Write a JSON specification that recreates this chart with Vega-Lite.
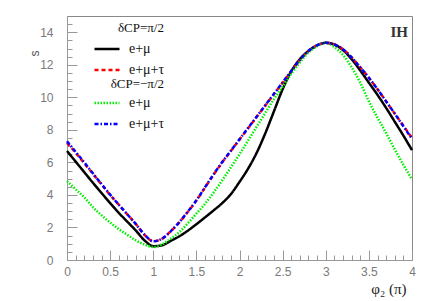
{
  "$schema": "https://vega.github.io/schema/vega-lite/v6.json",
  "autosize": "none",
  "width": 345,
  "height": 244,
  "padding": {"left": 67, "top": 16, "right": 24, "bottom": 41},
  "background": "white",
  "config": {"view": {"stroke": "#888888", "strokeWidth": 1}, "legend": {"padding": 0}},
  "title": {
    "text": "IH", "orient": "top", "anchor": "end", "offset": -24, "dx": -9,
    "font": "Liberation Serif", "fontSize": 15, "fontWeight": "bold", "color": "#333333"
  },
  "datasets": {
    "A": [
      {"phi": 0, "emu": 6.7, "emutau": 7.2},
      {"phi": 0.1, "emu": 6.05, "emutau": 6.6},
      {"phi": 0.2, "emu": 5.4, "emutau": 5.95},
      {"phi": 0.3, "emu": 4.75, "emutau": 5.3},
      {"phi": 0.4, "emu": 4.12, "emutau": 4.65},
      {"phi": 0.5, "emu": 3.5, "emutau": 4.0},
      {"phi": 0.6, "emu": 2.9, "emutau": 3.4},
      {"phi": 0.7, "emu": 2.35, "emutau": 2.8},
      {"phi": 0.8, "emu": 1.8, "emutau": 2.2},
      {"phi": 0.9, "emu": 1.2, "emutau": 1.55},
      {"phi": 1.0, "emu": 0.85, "emutau": 1.15},
      {"phi": 1.1, "emu": 0.9, "emutau": 1.3},
      {"phi": 1.2, "emu": 1.17, "emutau": 1.75},
      {"phi": 1.3, "emu": 1.45, "emutau": 2.3},
      {"phi": 1.4, "emu": 1.8, "emutau": 2.95},
      {"phi": 1.5, "emu": 2.2, "emutau": 3.65},
      {"phi": 1.6, "emu": 2.62, "emutau": 4.45},
      {"phi": 1.7, "emu": 3.05, "emutau": 5.25},
      {"phi": 1.8, "emu": 3.5, "emutau": 6.0},
      {"phi": 1.9, "emu": 4.05, "emutau": 6.7},
      {"phi": 2.0, "emu": 4.8, "emutau": 7.4},
      {"phi": 2.1, "emu": 5.62, "emutau": 8.1},
      {"phi": 2.2, "emu": 6.6, "emutau": 8.8},
      {"phi": 2.3, "emu": 7.8, "emutau": 9.5},
      {"phi": 2.4, "emu": 9.15, "emutau": 10.2},
      {"phi": 2.5, "emu": 10.5, "emutau": 10.9},
      {"phi": 2.6, "emu": 11.6, "emutau": 11.6},
      {"phi": 2.7, "emu": 12.35, "emutau": 12.3},
      {"phi": 2.8, "emu": 12.85, "emutau": 12.85},
      {"phi": 2.9, "emu": 13.2, "emutau": 13.2},
      {"phi": 3.0, "emu": 13.35, "emutau": 13.35},
      {"phi": 3.1, "emu": 13.25, "emutau": 13.25},
      {"phi": 3.2, "emu": 12.9, "emutau": 12.95},
      {"phi": 3.3, "emu": 12.35, "emutau": 12.45},
      {"phi": 3.4, "emu": 11.65, "emutau": 11.85},
      {"phi": 3.5, "emu": 10.9, "emutau": 11.2},
      {"phi": 3.6, "emu": 10.15, "emutau": 10.5},
      {"phi": 3.7, "emu": 9.35, "emutau": 9.75},
      {"phi": 3.8, "emu": 8.5, "emutau": 9.0},
      {"phi": 3.9, "emu": 7.65, "emutau": 8.25},
      {"phi": 4.0, "emu": 6.75, "emutau": 7.5}
    ],
    "B": [
      {"phi": 0, "emu": 4.85, "emutau": 7.3},
      {"phi": 0.1, "emu": 4.35, "emutau": 6.65},
      {"phi": 0.2, "emu": 3.85, "emutau": 6.0},
      {"phi": 0.3, "emu": 3.25, "emutau": 5.33},
      {"phi": 0.4, "emu": 2.75, "emutau": 4.67},
      {"phi": 0.5, "emu": 2.3, "emutau": 4.02},
      {"phi": 0.6, "emu": 1.9, "emutau": 3.4},
      {"phi": 0.7, "emu": 1.55, "emutau": 2.8},
      {"phi": 0.8, "emu": 1.2, "emutau": 2.2},
      {"phi": 0.9, "emu": 0.95, "emutau": 1.55},
      {"phi": 1.0, "emu": 0.8, "emutau": 1.15},
      {"phi": 1.1, "emu": 0.95, "emutau": 1.3},
      {"phi": 1.2, "emu": 1.3, "emutau": 1.75},
      {"phi": 1.3, "emu": 1.7, "emutau": 2.32},
      {"phi": 1.4, "emu": 2.25, "emutau": 2.97},
      {"phi": 1.5, "emu": 2.85, "emutau": 3.67},
      {"phi": 1.6, "emu": 3.45, "emutau": 4.47},
      {"phi": 1.7, "emu": 4.15, "emutau": 5.27},
      {"phi": 1.8, "emu": 4.9, "emutau": 6.02},
      {"phi": 1.9, "emu": 5.7, "emutau": 6.72},
      {"phi": 2.0, "emu": 6.5, "emutau": 7.42},
      {"phi": 2.1, "emu": 7.35, "emutau": 8.12},
      {"phi": 2.2, "emu": 8.2, "emutau": 8.82},
      {"phi": 2.3, "emu": 9.05, "emutau": 9.52},
      {"phi": 2.4, "emu": 9.9, "emutau": 10.22},
      {"phi": 2.5, "emu": 10.65, "emutau": 10.92},
      {"phi": 2.6, "emu": 11.45, "emutau": 11.62},
      {"phi": 2.7, "emu": 12.15, "emutau": 12.3},
      {"phi": 2.8, "emu": 12.75, "emutau": 12.85},
      {"phi": 2.9, "emu": 13.15, "emutau": 13.2},
      {"phi": 3.0, "emu": 13.35, "emutau": 13.35},
      {"phi": 3.1, "emu": 13.1, "emutau": 13.25},
      {"phi": 3.2, "emu": 12.6, "emutau": 12.95},
      {"phi": 3.3, "emu": 11.85, "emutau": 12.45},
      {"phi": 3.4, "emu": 10.9, "emutau": 11.85},
      {"phi": 3.5, "emu": 9.75, "emutau": 11.2},
      {"phi": 3.6, "emu": 8.75, "emutau": 10.5},
      {"phi": 3.7, "emu": 7.8, "emutau": 9.75},
      {"phi": 3.8, "emu": 6.8, "emutau": 9.0},
      {"phi": 3.9, "emu": 5.85, "emutau": 8.22},
      {"phi": 4.0, "emu": 4.95, "emutau": 7.45}
    ]
  },
  "encoding": {
    "x": {
      "field": "phi", "type": "quantitative",
      "scale": {"domain": [0, 4], "nice": false, "zero": false},
      "axis": {
        "title": "φ₂ (π)",
        "titleFont": "Liberation Serif", "titleFontSize": 15, "titleFontWeight": "normal", "titleColor": "#222222",
        "titleAnchor": "end", "titleAlign": "right", "titleBaseline": "middle", "titleX": 339, "titleY": 28,
        "values": [0,0.1,0.2,0.3,0.4,0.5,0.6,0.7,0.8,0.9,1,1.1,1.2,1.3,1.4,1.5,1.6,1.7,1.8,1.9,2,2.1,2.2,2.3,2.4,2.5,2.6,2.7,2.8,2.9,3,3.1,3.2,3.3,3.4,3.5,3.6,3.7,3.8,3.9,4],
        "format": "~g",
        "labelExpr": "abs(datum.value*2 - round(datum.value*2)) < 0.001 ? datum.label : ''",
        "labelOverlap": false, "labelFlush": false,
        "labelFont": "Liberation Sans", "labelFontSize": 12, "labelColor": "#7a7a7a", "labelPadding": 16,
        "tickSize": {"condition": {"test": "abs(datum.value*2 - round(datum.value*2)) < 0.001", "value": -10}, "value": -5},
        "tickColor": "#999999", "domainColor": "#999999", "grid": false
      }
    },
    "y": {
      "field": "s", "type": "quantitative",
      "scale": {"domain": [0, 15], "nice": false, "zero": false},
      "axis": {
        "title": "s",
        "titleFont": "Liberation Sans", "titleFontSize": 12, "titleFontWeight": "normal", "titleColor": "#555555",
        "titleAngle": -90, "titleAlign": "center", "titleBaseline": "middle", "titleX": -33, "titleY": 37,
        "values": [0,0.5,1,1.5,2,2.5,3,3.5,4,4.5,5,5.5,6,6.5,7,7.5,8,8.5,9,9.5,10,10.5,11,11.5,12,12.5,13,13.5,14,14.5],
        "format": "~g",
        "labelExpr": "datum.value % 2 === 0 ? datum.label : ''",
        "labelOverlap": false, "labelFlush": false,
        "labelFont": "Liberation Sans", "labelFontSize": 12, "labelColor": "#7a7a7a", "labelPadding": 24,
        "tickSize": {"condition": {"test": "datum.value % 2 === 0", "value": -10}, "value": -5},
        "tickColor": "#999999", "domainColor": "#999999", "grid": false
      }
    }
  },
  "layer": [
    {
      "data": {"name": "A"},
      "transform": [{"fold": ["emu", "emutau"], "as": ["ch", "s"]}],
      "mark": {"type": "line", "strokeWidth": 2.5, "interpolate": "monotone", "strokeCap": "butt"},
      "encoding": {
        "color": {
          "field": "ch", "type": "nominal",
          "scale": {"domain": ["emu", "emutau"], "range": ["#000000", "#ff0000"]},
          "legend": {
            "title": "δCP=π/2", "orient": "none", "legendX": 26, "legendY": 6, "titleAnchor": "end",
            "symbolType": "stroke", "symbolSize": 625, "symbolStrokeWidth": 2.5,
            "labelExpr": "datum.label == 'emu' ? 'e+μ' : 'e+μ+τ'",
            "labelFont": "Liberation Serif", "labelFontSize": 14, "labelColor": "#111111", "labelOffset": 8,
            "titleFont": "Liberation Serif", "titleFontSize": 13, "titleFontWeight": "normal", "titleColor": "#111111",
            "titlePadding": 0, "rowPadding": -10
          }
        },
        "strokeDash": {
          "field": "ch", "type": "nominal",
          "scale": {"domain": ["emu", "emutau"], "range": [[1, 0], [4, 3]]},
          "legend": {
            "title": "δCP=π/2", "orient": "none", "legendX": 26, "legendY": 6, "titleAnchor": "end",
            "symbolType": "stroke", "symbolSize": 625, "symbolStrokeWidth": 2.5,
            "labelExpr": "datum.label == 'emu' ? 'e+μ' : 'e+μ+τ'",
            "labelFont": "Liberation Serif", "labelFontSize": 14, "labelColor": "#111111", "labelOffset": 8,
            "titleFont": "Liberation Serif", "titleFontSize": 13, "titleFontWeight": "normal", "titleColor": "#111111",
            "titlePadding": 0, "rowPadding": -10
          }
        }
      }
    },
    {
      "data": {"name": "B"},
      "transform": [{"fold": ["emu", "emutau"], "as": ["ch", "s"]}],
      "mark": {"type": "line", "strokeWidth": 2.5, "interpolate": "monotone", "strokeCap": "butt"},
      "encoding": {
        "color": {
          "field": "ch", "type": "nominal",
          "scale": {"domain": ["emu", "emutau"], "range": ["#00ee00", "#0000ff"]},
          "legend": {
            "title": "δCP=−π/2", "orient": "none", "legendX": 26, "legendY": 62, "titleAnchor": "end",
            "symbolType": "stroke", "symbolSize": 625, "symbolStrokeWidth": 2.5,
            "labelExpr": "datum.label == 'emu' ? 'e+μ' : 'e+μ+τ'",
            "labelFont": "Liberation Serif", "labelFontSize": 14, "labelColor": "#111111", "labelOffset": 8,
            "titleFont": "Liberation Serif", "titleFontSize": 13, "titleFontWeight": "normal", "titleColor": "#111111",
            "titlePadding": -2, "rowPadding": -10
          }
        },
        "strokeDash": {
          "field": "ch", "type": "nominal",
          "scale": {"domain": ["emu", "emutau"], "range": [[1.5, 1.5], [4, 2, 1.5, 2]]},
          "legend": {
            "title": "δCP=−π/2", "orient": "none", "legendX": 26, "legendY": 62, "titleAnchor": "end",
            "symbolType": "stroke", "symbolSize": 625, "symbolStrokeWidth": 2.5,
            "labelExpr": "datum.label == 'emu' ? 'e+μ' : 'e+μ+τ'",
            "labelFont": "Liberation Serif", "labelFontSize": 14, "labelColor": "#111111", "labelOffset": 8,
            "titleFont": "Liberation Serif", "titleFontSize": 13, "titleFontWeight": "normal", "titleColor": "#111111",
            "titlePadding": -2, "rowPadding": -10
          }
        }
      }
    }
  ],
  "resolve": {"scale": {"color": "independent", "strokeDash": "independent"}}
}
